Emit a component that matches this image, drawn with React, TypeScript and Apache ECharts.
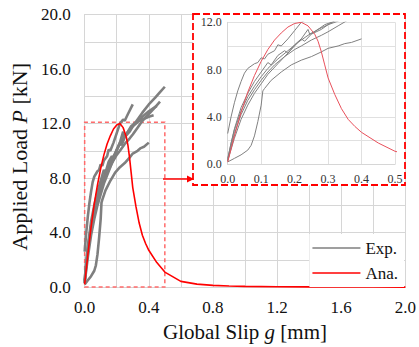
import React, { useEffect, useRef } from "react";
import * as echarts from "echarts";

// Analytical curve (Ana.)
const anaX = [0, 0.02, 0.04, 0.06, 0.08, 0.1, 0.12, 0.14, 0.16, 0.18, 0.2, 0.22, 0.24, 0.26, 0.27, 0.28, 0.29, 0.3, 0.32, 0.34, 0.36, 0.38, 0.4, 0.45, 0.5, 0.6, 0.7, 0.8, 0.9, 1.0, 1.2, 1.4, 1.6, 1.8, 2.0];
const anaY = [0.2, 2.4, 4.4, 6.1, 7.5, 8.7, 9.7, 10.5, 11.1, 11.6, 11.9, 12.0, 11.7, 11.0, 10.4, 9.5, 8.4, 7.3, 5.9, 4.7, 3.8, 3.2, 2.7, 1.8, 1.1, 0.42, 0.22, 0.13, 0.08, 0.05, 0.03, 0.02, 0.01, 0.01, 0.0];

// Experimental curves (Exp.)
const exp1: number[][] = [[0, 0.4], [0.01, 1.8], [0.02, 2.9], [0.04, 4.5], [0.06, 5.7], [0.08, 6.6], [0.1, 7.4], [0.12, 8.1], [0.15, 8.9], [0.18, 9.6], [0.21, 10.3], [0.24, 10.9], [0.27, 11.4], [0.3, 11.8], [0.33, 12.3], [0.36, 12.8], [0.4, 13.4], [0.44, 13.9], [0.47, 14.3], [0.5, 14.7]];
const exp2: number[][] = [[0, 0.3], [0.01, 1.5], [0.02, 2.6], [0.04, 4.2], [0.06, 5.4], [0.08, 6.3], [0.1, 7.1], [0.12, 7.8], [0.14, 8.4], [0.17, 9.1], [0.2, 9.7], [0.22, 10.0], [0.25, 10.5], [0.28, 10.9], [0.3, 11.2], [0.33, 11.7], [0.36, 12.2], [0.4, 12.7], [0.44, 13.2], [0.47, 13.6]];
const exp3: number[][] = [[0, 0.5], [0.02, 3.0], [0.04, 4.8], [0.06, 6.0], [0.08, 7.0], [0.1, 7.8], [0.12, 8.6], [0.13, 8.4], [0.15, 9.2], [0.17, 9.6], [0.18, 9.4], [0.2, 10.1], [0.22, 10.6], [0.23, 10.4], [0.25, 11.0], [0.28, 11.4], [0.3, 11.8], [0.33, 12.1], [0.36, 12.5], [0.4, 12.9], [0.45, 13.3]];
const exp4: number[][] = [[0, 2.6], [0.01, 4.0], [0.02, 5.2], [0.03, 6.2], [0.04, 7.0], [0.05, 7.7], [0.06, 8.1], [0.08, 8.5], [0.09, 8.6], [0.1, 9.0], [0.11, 8.9], [0.12, 9.3], [0.14, 9.6], [0.15, 10.1], [0.16, 10.0], [0.18, 10.6], [0.2, 11.3], [0.22, 12.0], [0.24, 12.3], [0.25, 12.2], [0.27, 12.7], [0.3, 13.4]];
const exp5: number[][] = [[0, 0.2], [0.02, 0.5], [0.04, 0.8], [0.06, 1.2], [0.07, 1.6], [0.08, 2.4], [0.09, 3.6], [0.1, 5.0], [0.105, 6.2], [0.11, 6.4], [0.13, 7.1], [0.16, 7.8], [0.19, 8.4], [0.22, 8.8], [0.25, 9.1], [0.28, 9.5], [0.3, 9.8], [0.33, 10.0], [0.35, 10.2], [0.37, 10.3], [0.4, 10.6]];
const exp6: number[][] = [[0, 0.3], [0.02, 2.2], [0.04, 3.8], [0.06, 5.0], [0.08, 6.0], [0.1, 6.8], [0.12, 7.6], [0.15, 8.5], [0.18, 9.4], [0.2, 10.0], [0.22, 10.6], [0.24, 11.4], [0.245, 11.0], [0.26, 11.2], [0.29, 11.8], [0.32, 12.1], [0.36, 12.3], [0.4, 12.5], [0.43, 12.6]];
const expCurves = [exp1, exp2, exp3, exp4, exp5, exp6];

// Tick settings
const mainXMax = 2.0;
const mainYMax = 20.0;
const insetXMax = 0.5;
const insetYMax = 12.0;
const zoomBox = [[0, 0], [0.5, 12.1]];

const FONT = "'Liberation Serif', 'Times New Roman', serif";
const GRID = "#d6d6d6";

export default function App() {
  const ref = useRef<HTMLDivElement>(null);
  useEffect(() => {
    if (!ref.current) return;
    const chart = echarts.init(ref.current, undefined, { renderer: "svg" });
    const ana = anaX.map((x, i) => [x, anaY[i]]);
    const series: any[] = [];
    expCurves.forEach((c) => {
      series.push({
        name: "Exp.", type: "line", xAxisIndex: 0, yAxisIndex: 0, data: c,
        symbol: "none", lineStyle: { color: "#7f7f7f", width: 2.6 }, itemStyle: { color: "#7f7f7f" }, z: 2,
      });
    });
    series.push({
      name: "Ana.", type: "line", xAxisIndex: 0, yAxisIndex: 0, data: ana,
      symbol: "none", lineStyle: { color: "#ff0000", width: 1.6 }, itemStyle: { color: "#ff0000" }, z: 3,
      markArea: {
        silent: true,
        itemStyle: { color: "rgba(0,0,0,0)", borderColor: "#ff6b6b", borderWidth: 1.5, borderType: [4, 3] },
        data: [[{ coord: zoomBox[0] }, { coord: zoomBox[1] }]],
      },
    });
    expCurves.forEach((c) => {
      series.push({
        name: "Exp.", type: "line", xAxisIndex: 1, yAxisIndex: 1, data: c, clip: true,
        symbol: "none", lineStyle: { color: "#808080", width: 1 }, itemStyle: { color: "#808080" }, z: 12,
      });
    });
    series.push({
      name: "Ana.", type: "line", xAxisIndex: 1, yAxisIndex: 1, data: ana, clip: true,
      symbol: "none", lineStyle: { color: "#e8505b", width: 1 }, itemStyle: { color: "#e8505b" }, z: 13,
    });

    chart.setOption({
      animation: false,
      textStyle: { fontFamily: FONT },
      grid: [
        { left: 81.5, right: 13.5, top: 14.5, bottom: 59 },
        { left: 227.7, right: 24, top: 22.3, bottom: 182.7 },
      ],
      xAxis: [
        {
          type: "value", gridIndex: 0, min: 0, max: mainXMax, interval: 0.4,
          axisLine: { lineStyle: { color: GRID } }, axisTick: { show: false },
          axisLabel: { fontFamily: FONT, fontSize: 17, color: "#111", margin: 12, formatter: (v: number) => v.toFixed(1) },
          splitLine: { show: true, lineStyle: { color: GRID } },
          minorTick: { show: false, splitNumber: 2 },
          minorSplitLine: { show: true, lineStyle: { color: GRID } },
          name: "Global Slip {i|g} [mm]", nameLocation: "middle", nameGap: 28,
          nameTextStyle: { fontFamily: FONT, fontSize: 21, color: "#111", rich: { i: { fontFamily: FONT, fontSize: 21, fontStyle: "italic", color: "#111" } } },
        },
        {
          type: "value", gridIndex: 1, min: 0, max: insetXMax, interval: 0.1, z: 11,
          axisLine: { lineStyle: { color: GRID } }, axisTick: { show: false },
          axisLabel: { fontFamily: FONT, fontSize: 12, color: "#333", margin: 9, formatter: (v: number) => v.toFixed(1) },
          splitLine: { show: true, lineStyle: { color: "#e0e0e0" } },
        },
      ],
      yAxis: [
        {
          type: "value", gridIndex: 0, min: 0, max: mainYMax, interval: 4,
          axisLine: { show: true, lineStyle: { color: GRID } }, axisTick: { show: false },
          axisLabel: { fontFamily: FONT, fontSize: 17, color: "#111", margin: 14, formatter: (v: number) => v.toFixed(1) },
          splitLine: { show: true, lineStyle: { color: GRID } },
          minorTick: { show: false, splitNumber: 2 },
          minorSplitLine: { show: true, lineStyle: { color: GRID } },
          name: "Applied Load {i|P} [kN]", nameLocation: "middle", nameGap: 44, nameRotate: 90,
          nameTextStyle: { fontFamily: FONT, fontSize: 22, color: "#111", padding: [0, 12, 0, 0], rich: { i: { fontFamily: FONT, fontSize: 22, fontStyle: "italic", color: "#111" } } },
        },
        {
          type: "value", gridIndex: 1, min: 0, max: insetYMax, interval: 4, z: 11,
          axisLine: { show: true, lineStyle: { color: GRID } }, axisTick: { show: false },
          axisLabel: { fontFamily: FONT, fontSize: 12, color: "#333", margin: 6, formatter: (v: number) => v.toFixed(1) },
          splitLine: { show: true, lineStyle: { color: "#e0e0e0" } },
          minorTick: { show: false, splitNumber: 2 },
          minorSplitLine: { show: true, lineStyle: { color: "#e0e0e0" } },
        },
      ],
      legend: {
        data: ["Exp.", "Ana."], orient: "vertical", right: 15, bottom: 60,
        backgroundColor: "#ffffff", padding: [5, 6, 5, 3], itemGap: 7,
        icon: "rect", itemWidth: 48, itemHeight: 1.6,
        textStyle: { fontFamily: FONT, fontSize: 17, color: "#111", lineHeight: 18 },
      },
      graphic: [
        {
          type: "rect", z: 10, silent: true,
          shape: { x: 193, y: 14, width: 212, height: 171 },
          style: { fill: "#ffffff", stroke: "#ff0000", lineWidth: 1.8, lineDash: [7, 3] },
        },
        {
          type: "line", z: 10, silent: true,
          shape: { x1: 163, y1: 179, x2: 188, y2: 179 },
          style: { stroke: "#ff0000", lineWidth: 1.5 },
        },
        {
          type: "polygon", z: 10, silent: true,
          shape: { points: [[187, 175.5], [194, 179], [187, 182.5]] },
          style: { fill: "#ff0000" },
        },
      ],
      series,
    });
    return () => chart.dispose();
  }, []);
  return <div ref={ref} style={{ position: "absolute", left: 0, top: 0, width: 419, height: 347 }} />;
}
